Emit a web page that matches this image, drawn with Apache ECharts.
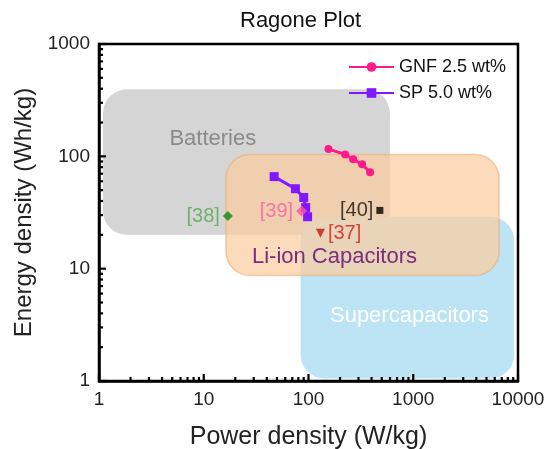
<!DOCTYPE html>
<html>
<head>
<meta charset="utf-8">
<script src="https://cdn.jsdelivr.net/npm/echarts@6/dist/echarts.min.js"></script>
<style>
  html, body { margin: 0; padding: 0; background: #fff; }
  #chart { width: 549px; height: 449px; }
</style>
</head>
<body>
<div id="chart"></div>
<script>
// measured series (power W/kg, energy Wh/kg)
var gnfPower  = [155, 224, 267, 325, 387];
var gnfEnergy = [116, 104, 94, 85, 72];
var spPower   = [47, 75, 90, 94, 98];
var spEnergy  = [66, 51.5, 43, 35, 29];

// literature points
var refNames  = ['[37]', '[38]', '[39]', '[40]'];
var refPower  = [130, 17, 86, 480];
var refEnergy = [20.7, 29.4, 32.6, 33];

// device regions: [power min, power max], [energy min, energy max], label anchor
var regionNames   = ['Batteries', 'Supercapacitors', 'Li-ion Capacitors'];
var regionPower   = [[1.09, 598], [84, 9200], [16.3, 6600]];
var regionEnergy  = [[20, 395], [1.05, 29], [8.7, 104]];
var regionLabelAt = [[12.2, 142], [920, 3.77], [177, 12.8]];

var xTicks = [1, 10, 100, 1000, 10000];
var yTicks = [1, 10, 100, 1000];

var font = 'Arial, "Liberation Sans", sans-serif';

var regionStyle = {
  'Batteries':         { fill: '#d5d5d5', stroke: 'rgba(0,0,0,0)', text: '#8a8a8a' },
  'Supercapacitors':   { fill: '#bde4f5', stroke: 'rgba(0,0,0,0)', text: '#ffffff' },
  'Li-ion Capacitors': { fill: 'rgba(250,205,160,0.72)', stroke: 'rgba(240,165,115,0.55)', text: '#7a2c7e' }
};

var refStyle = {
  '[37]': { symbol: 'triangle', rotate: 180, color: '#c81414', text: '#d01c1c', pos: 'right', size: 9 },
  '[38]': { symbol: 'diamond',  rotate: 0,   color: '#0b8a0b', text: '#52a852', pos: 'left',  size: 10 },
  '[39]': { symbol: 'diamond',  rotate: 0,   color: '#ff4fa8', text: '#ff5aa8', pos: 'left',  size: 11 },
  '[40]': { symbol: 'rect',     rotate: 0,   color: '#000000', text: '#111111', pos: 'left',  size: 7 }
};

// tick marks (2..9 in each decade as minor, decades as major)
var tickMarks = [];
function addTicks(ticks, axis) {
  for (var i = 0; i < ticks.length; i++) {
    tickMarks.push([ticks[i], axis, 1]);
    if (i < ticks.length - 1) {
      for (var m = 2; m <= 9; m++) tickMarks.push([ticks[i] * m, axis, 0]);
    }
  }
}
addTicks(xTicks, 0);
addTicks(yTicks, 1);

var myChart = echarts.init(document.getElementById('chart'));

var regionData = regionNames.map(function (n, i) {
  return [regionPower[i][0], regionPower[i][1], regionEnergy[i][0], regionEnergy[i][1],
          regionLabelAt[i][0], regionLabelAt[i][1], i];
});

var series = [
  {
    type: 'custom',
    name: 'regions',
    z: 1,
    silent: true,
    encode: { x: [0, 1], y: [2, 3] },
    data: regionData,
    renderItem: function (params, api) {
      var name = regionNames[api.value(6)];
      var st = regionStyle[name];
      var p0 = api.coord([api.value(0), api.value(3)]);
      var p1 = api.coord([api.value(1), api.value(2)]);
      var lp = api.coord([api.value(4), api.value(5)]);
      return {
        type: 'group',
        children: [
          {
            type: 'rect',
            shape: { x: p0[0], y: p0[1], width: p1[0] - p0[0], height: p1[1] - p0[1], r: 24 },
            style: { fill: st.fill, stroke: st.stroke, lineWidth: 1.5 }
          },
          {
            type: 'text',
            x: lp[0], y: lp[1],
            style: {
              text: name, fill: st.text, font: '22px ' + font,
              textAlign: 'center', textVerticalAlign: 'middle'
            }
          }
        ]
      };
    }
  },
  {
    type: 'custom',
    name: 'ticks',
    z: 6,
    silent: true,
    encode: { x: -1, y: -1 },
    data: tickMarks,
    renderItem: function (params, api) {
      var v = api.value(0), isY = api.value(1) === 1, major = api.value(2) === 1;
      var len = major ? 7 : 4;
      var p = isY ? api.coord([xTicks[0], v]) : api.coord([v, yTicks[0]]);
      var q = isY ? [p[0] + len, p[1]] : [p[0], p[1] - len];
      return {
        type: 'line',
        shape: { x1: p[0], y1: p[1], x2: q[0], y2: q[1] },
        style: { stroke: '#000', lineWidth: 2.2 }
      };
    }
  },
  {
    type: 'line',
    name: 'GNF 2.5 wt%',
    z: 5,
    data: gnfPower.map(function (p, i) { return [p, gnfEnergy[i]]; }),
    symbol: 'circle',
    symbolSize: 8,
    lineStyle: { color: '#ff1a8c', width: 3 },
    itemStyle: { color: '#ff1a8c' }
  },
  {
    type: 'line',
    name: 'SP 5.0 wt%',
    z: 5,
    data: spPower.map(function (p, i) { return [p, spEnergy[i]]; }),
    symbol: 'rect',
    symbolSize: 9,
    lineStyle: { color: '#8019ff', width: 3 },
    itemStyle: { color: '#8019ff' }
  }
];

refNames.forEach(function (n, i) {
  var st = refStyle[n];
  series.push({
    type: 'scatter',
    name: n,
    z: 7,
    data: [[refPower[i], refEnergy[i]]],
    symbol: st.symbol,
    symbolRotate: st.rotate,
    symbolSize: st.size,
    itemStyle: { color: st.color },
    label: {
      show: true, position: st.pos, distance: 3,
      formatter: n, color: st.text, fontSize: 20, fontFamily: font
    }
  });
});

var axisCommon = {
  type: 'log',
  logBase: 10,
  nameLocation: 'middle',
  nameTextStyle: { fontSize: 24, color: '#222', fontFamily: font },
  axisLine: { show: true, lineStyle: { color: '#000', width: 2.5 } },
  axisTick: { show: false },
  axisLabel: {
    fontSize: 19, color: '#222', fontFamily: font, margin: 9,
    formatter: function (v) { return String(v); }
  },
  splitLine: { show: false }
};

var option = {
  backgroundColor: '#fff',
  animation: false,
  title: {
    text: 'Ragone Plot',
    left: 235,
    top: 5,
    textStyle: { fontSize: 22, fontWeight: 'normal', color: '#111', fontFamily: font }
  },
  legend: {
    data: ['GNF 2.5 wt%', 'SP 5.0 wt%'],
    orient: 'vertical',
    left: 343,
    top: 53,
    itemWidth: 45,
    itemHeight: 12,
    itemGap: 8,
    textStyle: { fontSize: 18, color: '#111', fontFamily: font }
  },
  grid: {
    left: 99, right: 31, top: 44, bottom: 68,
    outerBoundsMode: 'none',
    containLabel: false,
    show: true, borderColor: '#000', borderWidth: 2.5, backgroundColor: 'transparent'
  },
  xAxis: Object.assign({}, axisCommon, {
    name: 'Power density (W/kg)',
    nameGap: 44,
    nameTextStyle: { fontSize: 25, color: '#222', fontFamily: font },
    min: xTicks[0],
    max: xTicks[xTicks.length - 1]
  }),
  yAxis: Object.assign({}, axisCommon, {
    name: 'Energy density (Wh/kg)',
    nameGap: 58,
    min: yTicks[0],
    max: yTicks[yTicks.length - 1]
  }),
  series: series
};

myChart.setOption(option);
</script>
</body>
</html>
